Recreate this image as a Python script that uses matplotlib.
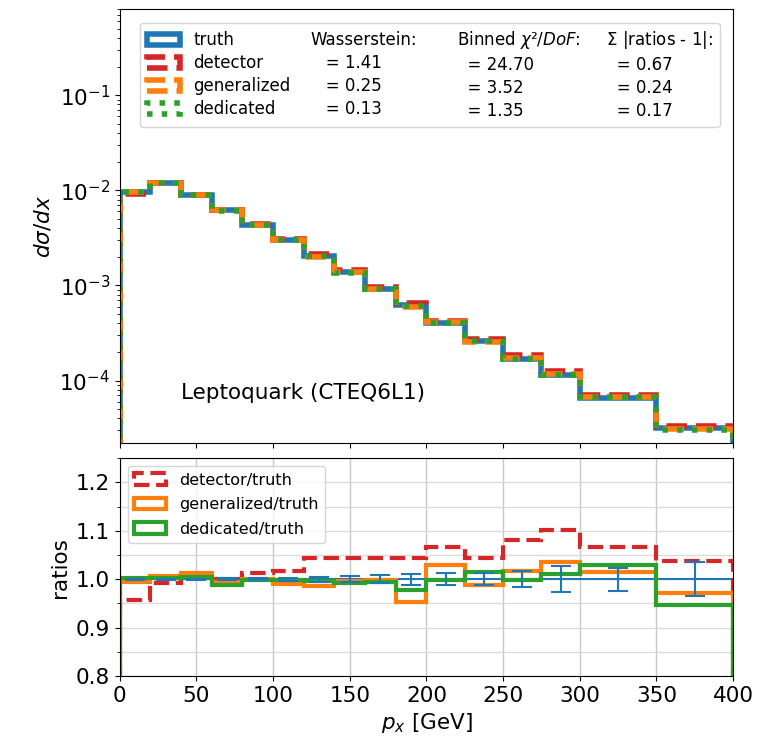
import numpy as np
import matplotlib.pyplot as plt
from matplotlib.ticker import MultipleLocator
from matplotlib.patches import Rectangle

# bin edges in p_x [GeV]
edges = [0, 20, 40, 60, 80, 100, 120, 140, 160, 180, 200, 225, 250, 275, 300, 350, 400]

# truth distribution d sigma / dx
truth = [9.6e-3, 1.2e-2, 8.85e-3, 6.2e-3, 4.35e-3, 3.0e-3, 2.04e-3, 1.38e-3,
         9.2e-4, 6.3e-4, 4.0e-4, 2.6e-4, 1.7e-4, 1.14e-4, 6.6e-5, 3.2e-5]

# ratios to truth
ratio_detector = [0.957, 0.992, 1.005, 1.0, 1.013, 1.017, 1.043, 1.043,
                  1.043, 1.043, 1.067, 1.043, 1.081, 1.101, 1.067, 1.037]
ratio_generalized = [0.994, 1.006, 1.012, 0.994, 1.001, 0.991, 0.986, 0.997,
                     0.999, 0.953, 1.029, 0.988, 1.017, 1.036, 1.015, 0.972]
ratio_dedicated = [1.003, 1.003, 1.005, 0.988, 0.999, 0.999, 0.997, 0.992,
                   0.994, 0.977, 0.999, 1.015, 0.998, 1.010, 1.029, 0.946]

# relative stat. uncertainty of truth
truth_rel_err = [0.001, 0.001, 0.001, 0.0015, 0.002, 0.003, 0.005, 0.006,
                 0.008, 0.011, 0.013, 0.013, 0.016, 0.027, 0.024, 0.035]

# metrics for the legend
names = ["detector", "generalized", "dedicated"]
wasserstein = ["1.41", "0.25", "0.13"]
chi2_dof = ["24.70", "3.52", "1.35"]
sum_ratios = ["0.67", "0.24", "0.17"]

edges = np.array(edges)
truth = np.array(truth)
centers = 0.5 * (edges[1:] + edges[:-1])

fig = plt.figure(figsize=(7.58, 7.47), dpi=100)
gs = fig.add_gridspec(2, 1, height_ratios=[434, 218], hspace=0.046,
                      left=0.158, right=0.967, top=0.9875, bottom=0.095)
ax = fig.add_subplot(gs[0])
rax = fig.add_subplot(gs[1], sharex=ax)

# main panel
ax.set_yscale("log")
_, _, h_truth = ax.hist(edges[:-1], bins=edges, weights=truth, histtype="step",
                        color="C0", lw=4, ls="-", label="truth")
_, _, h_det = ax.hist(edges[:-1], bins=edges, weights=truth * np.array(ratio_detector),
                      histtype="step", color="C3", lw=4, ls="--", label="detector")
_, _, h_gen = ax.hist(edges[:-1], bins=edges, weights=truth * np.array(ratio_generalized),
                      histtype="step", color="C1", lw=4, ls="--", label="generalized")
_, _, h_ded = ax.hist(edges[:-1], bins=edges, weights=truth * np.array(ratio_dedicated),
                      histtype="step", color="C2", lw=4, ls=":", label="dedicated")
ax.set_ylim(2.2e-5, 0.8)
ax.set_xlim(0, 400)
ax.set_ylabel(r"$d\sigma/dx$", fontsize=15.5)
ax.tick_params(labelsize=15.5)
plt.setp(ax.get_xticklabels(), visible=False)
ax.text(0.1, 0.115, "Leptoquark (CTEQ6L1)", transform=ax.transAxes,
        fontsize=15.5, va="center")

# legend with metrics as extra columns
blank = lambda: Rectangle((0, 0), 1, 1, fill=False, edgecolor="none", visible=False)
handles = [h_truth[0], h_det[0], h_gen[0], h_ded[0]] + [blank() for _ in range(12)]
labels = ["truth"] + names
labels += ["Wasserstein:"] + ["   = " + v for v in wasserstein]
labels += [r"    Binned $\chi$²/$DoF$:"] + ["      = " + v for v in chi2_dof]
labels += [r" $\Sigma$ |ratios - 1|:"] + ["   = " + v for v in sum_ratios]
ax.legend(handles, labels, ncol=4, loc="upper right", fontsize=12,
          columnspacing=-1.62, labelspacing=0.3, borderaxespad=0.8)

# ratio panel
rax.hist(edges[:-1], bins=edges, weights=np.ones(len(centers)), histtype="step",
         color="C0", lw=1.5)
_, _, r_det = rax.hist(edges[:-1], bins=edges, weights=ratio_detector, histtype="step",
                       color="C3", lw=3, ls="--", label="detector/truth")
_, _, r_gen = rax.hist(edges[:-1], bins=edges, weights=ratio_generalized, histtype="step",
                       color="C1", lw=3, label="generalized/truth")
_, _, r_ded = rax.hist(edges[:-1], bins=edges, weights=ratio_dedicated, histtype="step",
                       color="C2", lw=3, label="dedicated/truth")
rax.errorbar(centers, np.ones(len(centers)), yerr=truth_rel_err, fmt="none",
             ecolor="C0", elinewidth=1.5, capsize=7, capthick=1.5)
rax.set_ylim(0.8, 1.25)
rax.set_xlim(0, 400)
rax.yaxis.set_major_locator(MultipleLocator(0.1))
rax.yaxis.set_minor_locator(MultipleLocator(0.05))
rax.grid(which="both", axis="y", color="#dcdcdc", lw=1)
rax.grid(which="major", axis="x", color="#c8c8c8", lw=1)
rax.set_axisbelow(True)
rax.set_ylabel("ratios", fontsize=15.5)
rax.set_xlabel(r"$p_x$ [GeV]", fontsize=15.5)
rax.tick_params(labelsize=15.5)
rax.legend(loc="upper left", fontsize=11.5, labelspacing=0.6)

plt.savefig("out.png", dpi=100)
